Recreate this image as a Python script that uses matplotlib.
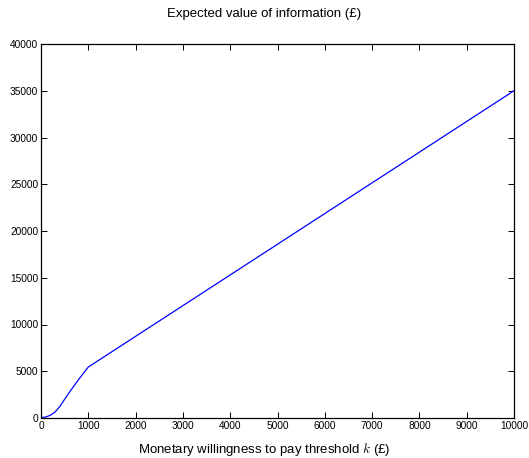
import matplotlib
matplotlib.use("Agg")
import matplotlib.pyplot as plt

k_values = [0, 100, 200, 300, 400, 500, 600, 700, 800, 900, 1000, 10000]
evi_values = [50, 100, 300, 650, 1250, 2000, 2750, 3450, 4150, 4800, 5450, 35000]
x_ticks = list(range(0, 10001, 1000))
y_ticks = list(range(0, 40001, 5000))

plt.rcParams['font.family'] = ['Liberation Sans', 'DejaVu Sans']
plt.rcParams['mathtext.fontset'] = 'cm'

fig = plt.figure(figsize=(5.29, 4.58), dpi=100)
ax = fig.add_axes([41/529, 40/458, (514-41)/529, (418-44)/458])
ax.plot(k_values, evi_values, color='#0000ff', linewidth=0.9)
ax.set_xlim(0, 10000)
ax.set_ylim(0, 40000)
ax.set_xticks(x_ticks)
ax.set_yticks(y_ticks)
ax.tick_params(direction='in', top=True, right=True, length=4, width=0.7, labelsize=7.3, pad=2)
for s in ax.spines.values():
    s.set_linewidth(0.9)
fig.text(0.5, 1 - 14/458, 'Expected value of information (£)', ha='center', va='center', fontsize=9.5)
fig.text(0.5, 1 - 450/458, 'Monetary willingness to pay threshold $k$ (£)', ha='center', va='center', fontsize=9.5)
fig.savefig('out.png', dpi=100)
